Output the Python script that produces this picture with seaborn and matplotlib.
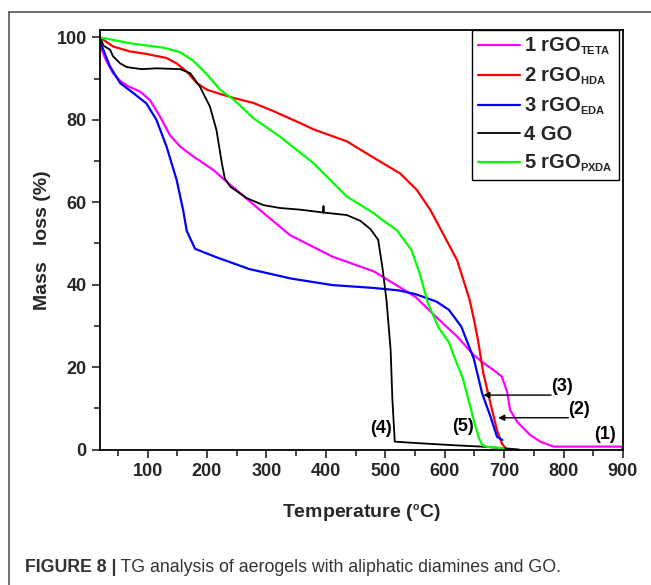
import numpy as np
import pandas as pd
import matplotlib
matplotlib.use("Agg")
import matplotlib.pyplot as plt
import matplotlib._mathtext as _mt
from matplotlib.lines import Line2D
from matplotlib import font_manager
import seaborn as sns

# smaller sub/superscripts, like the reference
_mt.SHRINK_FACTOR = 0.55

# ---------------- data ----------------
labels = [r"1 rGO$_{\mathbf{TETA}}$", r"2 rGO$_{\mathbf{HDA}}$",
          r"3 rGO$_{\mathbf{EDA}}$", "4 GO", r"5 rGO$_{\mathbf{PXDA}}$"]

teta_T = [20, 30, 42, 55, 68, 87, 104, 121, 138, 155, 177, 211, 233, 256, 290, 340,
          411, 481, 523, 551, 586, 621, 649, 665, 682, 696, 705, 710, 722, 744, 761,
          783, 840, 898, 899]
teta_M = [98, 94.5, 91.3, 89.3, 88.1, 86.9, 84.8, 80.8, 76.2, 73.5, 71.1, 67.8, 65,
          62.2, 58, 52, 46.8, 43.2, 39.5, 37, 32.1, 27.4, 22.9, 21, 19.3, 17.7, 14,
          9.6, 6.7, 3.5, 1.9, 0.7, 0.7, 0.7, 0]

hda_T = [20, 42, 70, 98, 132, 149, 166, 183, 200, 222, 245, 278, 312, 357, 379, 435,
         491, 525, 553, 576, 593, 621, 642, 650, 656, 665, 677, 688, 696, 704]
hda_M = [100, 97.8, 96.6, 96, 95, 93.7, 91.7, 88.9, 87.3, 86.3, 85.3, 84.1, 82.1,
         79.2, 77.7, 74.8, 69.9, 67, 63, 58.1, 53.5, 45.9, 36.3, 31, 26.5, 18.5,
         11.2, 4.7, 1.5, 0]

eda_T = [20, 37, 54, 76, 98, 115, 132, 149, 160, 166, 180, 215, 271, 341, 411, 481,
         523, 551, 586, 607, 628, 649, 663, 677, 688, 697]
eda_M = [99, 92.9, 88.9, 86.5, 84, 80, 73.5, 65.4, 58, 53, 48.7, 46.7, 43.8, 41.5,
         39.9, 39.2, 38.6, 37.7, 35.9, 33.9, 29.8, 22, 13.6, 8, 3.1, 2.3]

go_T = [20, 26, 37, 42, 54, 65, 90, 115, 155, 172, 188, 205, 216, 225, 230, 239, 267,
        295, 323, 357, 396, 396, 396, 435, 458, 475, 488, 495, 502, 509, 512, 516,
        560, 620, 662, 700, 725]
go_M = [100, 98, 97, 95.4, 93.7, 92.8, 92.3, 92.5, 92.3, 91.3, 88.1, 83.2, 77.5,
        69.5, 65.8, 63.8, 61, 59.3, 58.6, 58.2, 57.5, 59, 57.5, 56.9, 55.5, 53.5,
        50.9, 44.4, 36.3, 24.2, 12, 1.9, 1.5, 1.0, 0.7, 0.3, 0]

pxda_T = [20, 70, 127, 155, 177, 200, 222, 245, 278, 323, 379, 435, 480, 495, 519,
          544, 558, 572, 590, 607, 620, 630, 642, 650, 657, 663, 670, 699]
pxda_M = [100, 98.6, 97.5, 96.4, 94.3, 91, 87.3, 84.9, 80.4, 75.9, 69.5, 61.4, 57.4,
          55.7, 53.3, 48.4, 42.7, 35.4, 29.5, 26, 21, 17.5, 11, 6.5, 3, 1.1, 0.7, 0.3]

colors = ["#FF00FF", "#FF0000", "#0000FF", "#000000", "#00FF00"]
x_ticks = [100, 200, 300, 400, 500, 600, 700, 800, 900]
y_ticks = [0, 20, 40, 60, 80, 100]

series_T = [teta_T, hda_T, eda_T, go_T, pxda_T]
series_M = [teta_M, hda_M, eda_M, go_M, pxda_M]

frames = []
for lab, T, M in zip(labels, series_T, series_M):
    frames.append(pd.DataFrame({"T": T, "M": M, "series": lab}))
df = pd.concat(frames, ignore_index=True)

# ---------------- style ----------------
sns.set_style("ticks")
avail = {f.name for f in font_manager.fontManager.ttflist}
main_font = "Liberation Sans" if "Liberation Sans" in avail else "DejaVu Sans"
plt.rcParams["font.family"] = [main_font, "DejaVu Sans"]
plt.rcParams["mathtext.fontset"] = "custom"
plt.rcParams["mathtext.rm"] = main_font
plt.rcParams["mathtext.bf"] = main_font + ":bold"
plt.rcParams["mathtext.it"] = main_font + ":italic"

fig = plt.figure(figsize=(6.51, 5.85), dpi=100)
W, H = 651, 585
ax = fig.add_axes([100 / W, 1 - 449.5 / H, 523 / W, 419.5 / H])

for lab, col in zip(labels, colors):
    sub = df[df["series"] == lab]
    sns.lineplot(data=sub, x="T", y="M", color=col, ax=ax, estimator=None,
                 sort=False, lw=1.3 if col == "#000000" else 1.6, label=lab)

ax.set_xlim(20, 900)
ax.set_ylim(0, 101.8)
ax.set_xticks(x_ticks)
ax.set_yticks(y_ticks)
ax.set_xticks(np.arange(50, 900, 100), minor=True)
ax.set_yticks(np.arange(10, 100, 20), minor=True)
ax.tick_params(which="major", direction="out", length=6, width=1.2,
               labelsize=13)
ax.tick_params(which="minor", direction="out", length=4, width=1.2)
for lbl in ax.get_xticklabels() + ax.get_yticklabels():
    lbl.set_fontweight("bold")
for s in ax.spines.values():
    s.set_visible(True)
    s.set_linewidth(1.3)
    s.set_color("black")

ax.set_xlabel(r"Temperature ($^{\mathbf{o}}$C)", fontsize=14, fontweight="bold")
ax.set_ylabel("Mass   loss (%)", fontsize=14, fontweight="bold")
ax.xaxis.set_label_coords(0.5, (449.5 - 502) / 419.5)
ax.yaxis.set_label_coords((51 - 100) / 523, 0.5)

leg = ax.legend(loc="upper right", frameon=True, fancybox=False, framealpha=1,
                edgecolor="black", borderaxespad=0.0, handlelength=2.1,
                handletextpad=0.22, labelspacing=0.42, borderpad=0.3,
                prop={"weight": "bold", "size": 14.5},
                bbox_to_anchor=((619 - 100) / 523, 1.0))
leg.get_frame().set_linewidth(1.0)

# annotations
afont = dict(fontsize=13, fontweight="bold", color="black")
arrow = dict(arrowstyle="-|>", color="black", lw=1.0, mutation_scale=9,
             shrinkA=0, shrinkB=0)
ax.annotate("", xy=(665, 13.2), xytext=(779, 13.2), arrowprops=arrow)
ax.text(779, 15.3, "(3)", ha="left", va="center", **afont)
ax.annotate("", xy=(690, 7.7), xytext=(808, 7.7), arrowprops=arrow)
ax.text(808, 9.6, "(2)", ha="left", va="center", **afont)
ax.text(870, 3.6, "(1)", ha="center", va="center", **afont)
ax.text(630, 5.5, "(5)", ha="center", va="center", **afont)
ax.text(493, 5.2, "(4)", ha="center", va="center", **afont)

# outer frame (left and top edges visible)
fig.add_artist(Line2D([9 / W, 9 / W], [0, 1 - 12 / H], transform=fig.transFigure,
                      color="#555555", lw=1.2))
fig.add_artist(Line2D([9 / W, 1], [1 - 12 / H, 1 - 12 / H], transform=fig.transFigure,
                      color="#555555", lw=1.2))

# caption
cap_size = 12.8
t1 = fig.text(25 / W, 1 - 567 / H, "FIGURE 8 |", fontsize=cap_size,
              fontweight="bold", color="#333333", va="center")
plt.annotate(" TG analysis of aerogels with aliphatic diamines and GO.",
             xy=(1, 0), xycoords=t1, xytext=(0, 0), textcoords="offset points",
             va="bottom", ha="left", fontsize=cap_size, color="#333333",
             annotation_clip=False)

fig.savefig("out.png", dpi=100)
